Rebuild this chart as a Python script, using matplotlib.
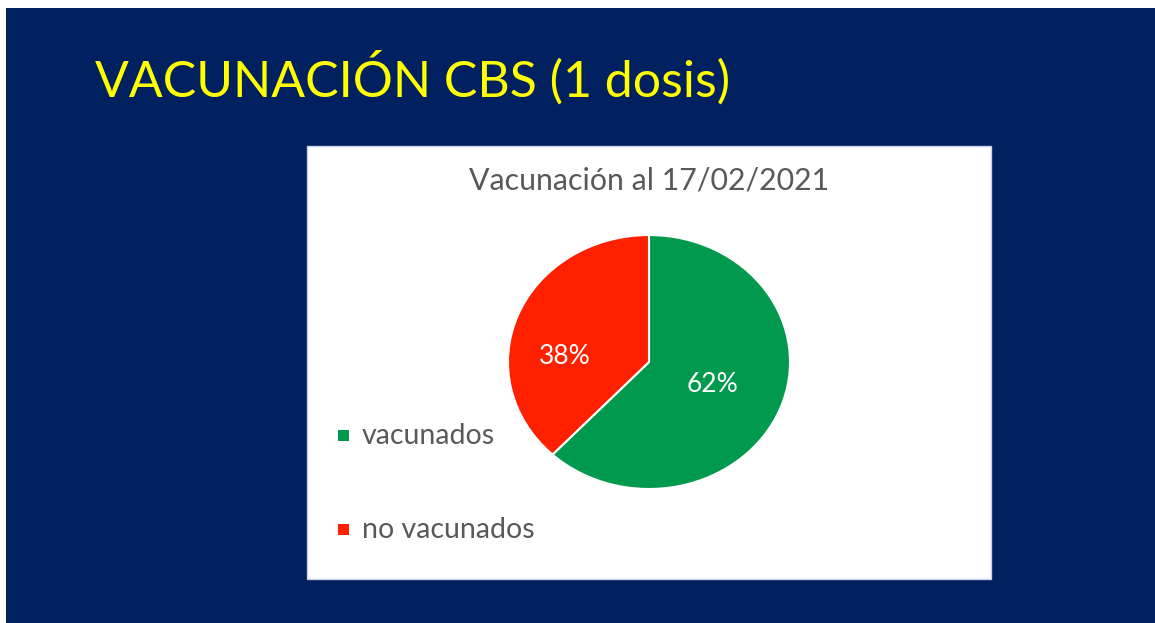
import matplotlib
matplotlib.use("Agg")
import matplotlib.pyplot as plt
from matplotlib.patches import Rectangle

categories = ["vacunados", "no vacunados"]
values = [62, 38]
pct_labels = ["62%", "38%"]
colors = ["#00994E", "#FF2000"]

W, H = 1155, 623
fig = plt.figure(figsize=(W / 100, H / 100), dpi=100)
fig.patch.set_facecolor("#002060")
FONT = "Lato"

def fx(x):
    return x / W

def fy(y):
    return 1 - y / H

# white slivers at top/left edge
fig.patches.append(Rectangle((0, fy(8)), 1, 8 / H, transform=fig.transFigure,
                             facecolor="white", edgecolor="none", zorder=0))
fig.patches.append(Rectangle((0, 0), 6 / W, 1, transform=fig.transFigure,
                             facecolor="white", edgecolor="none", zorder=0))

# slide title
fig.text(fx(95), fy(97), "VACUNACIÓN CBS (1 dosis)", color="#FFFF00",
         fontsize=36, family=FONT, ha="left", va="baseline")

# chart area (white box)
fig.patches.append(Rectangle((fx(307), fy(579)), (991 - 307) / W, (579 - 146) / H,
                             transform=fig.transFigure, facecolor="white",
                             edgecolor="#C8D0E8", linewidth=1, zorder=1))

fig.text(fx(649), fy(190), "Vacunación al 17/02/2021", color="#595959",
         fontsize=21.8, family=FONT, ha="center", va="baseline", zorder=3)

# pie axes (slightly elliptical as in the reference)
cx, cy, rx, ry = 649, 362, 141, 127
ax = fig.add_axes([fx(cx - rx), fy(cy + ry), 2 * rx / W, 2 * ry / H])
ax.set_zorder(2)
wedges, texts = ax.pie(values, colors=colors, startangle=90, counterclock=False,
                       radius=1, wedgeprops=dict(edgecolor="white", linewidth=1.5))
ax.set_aspect("auto")
ax.set_xlim(-1, 1)
ax.set_ylim(-1, 1)

label_pos = [(712, 384), (565, 357)]
for lab, (px, py) in zip(pct_labels, label_pos):
    fig.text(fx(px), fy(py), lab, color="white", fontsize=19, family=FONT,
             ha="center", va="center", zorder=5)

# legend
leg_y = [436, 530]
for cat, col, ly in zip(categories, colors, leg_y):
    fig.patches.append(Rectangle((fx(338), fy(ly + 5)), 11 / W, 11 / H,
                                 transform=fig.transFigure, facecolor=col,
                                 edgecolor="none", zorder=3))
    fig.text(fx(362), fy(ly), cat, color="#595959", fontsize=20.5, family=FONT,
             ha="left", va="center", zorder=3)

fig.savefig("out.png", dpi=100, facecolor=fig.get_facecolor())
